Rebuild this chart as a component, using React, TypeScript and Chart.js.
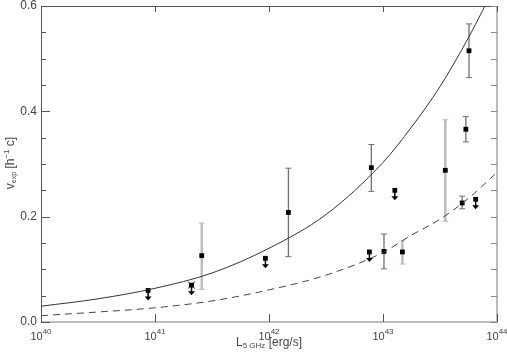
import React, { useEffect, useRef } from 'react';
import { Chart, registerables } from 'chart.js';

Chart.register(...registerables);

// Axis ticks
const xTickValues = [1e40, 1e41, 1e42, 1e43, 1e44];
const xTickBase = '10';
const xTickExponents = ['40', '41', '42', '43', '44'];
const yTickValues = [0, 0.2, 0.4, 0.6];
const yTickLabels = ['0.0', '0.2', '0.4', '0.6'];
const yMinorStep = 0.05;

// Detections with darker error bars
const darkL = [1.48e42, 7.9e42, 1.02e43, 4.95e43, 5.33e43, 5.68e43];
const darkV = [0.208, 0.293, 0.134, 0.226, 0.366, 0.515];
const darkLo = [0.124, 0.248, 0.101, 0.215, 0.342, 0.464];
const darkHi = [0.292, 0.337, 0.167, 0.239, 0.39, 0.566];

// Detections with lighter error bars
const lightL = [2.57e41, 1.48e43, 3.52e43];
const lightV = [0.126, 0.133, 0.288];
const lightLo = [0.062, 0.11, 0.191];
const lightHi = [0.188, 0.154, 0.384];

// Upper limits
const limitL = [8.7e40, 2.09e41, 9.3e41, 7.6e42, 1.27e43, 6.5e43];
const limitV = [0.06, 0.07, 0.121, 0.133, 0.25, 0.233];

// Special (crossed) source
const crossL = [2.09e41];
const crossV = [0.07];

const curveL = [1e40, 3.162e40, 1e41, 3.162e41, 1e42, 3.162e42, 1e43, 1.778e43, 3.162e43, 5.623e43, 1e44];
const solidV = [0.03, 0.044, 0.064, 0.093, 0.14, 0.204, 0.303, 0.37, 0.447, 0.54, 0.645];
const dashedV = [0.012, 0.019, 0.027, 0.04, 0.061, 0.089, 0.132, 0.165, 0.195, 0.235, 0.284];

const xTitleMain = 'L';
const xTitleSub = '5 GHz';
const xTitleRest = ' [erg/s]';
const yTitleMain = 'v';
const yTitleSub = 'exp';
const yTitleA = ' [h';
const yTitleSup = '\u22121';
const yTitleB = ' c]';

const FONT = '"Liberation Sans", Arial, sans-serif';
const TEXT = '#444';

const pts = (xs: number[], ys: number[]) => xs.map((x, i) => ({ x, y: ys[i] }));

const overlay = {
  id: 'overlay',
  beforeDatasetsDraw(chart: any) {
    const { ctx, scales } = chart;
    const x = scales.x, y = scales.y;
    const bars = (L: number[], lo: number[], hi: number[], color: string, w: number) => {
      ctx.save();
      ctx.strokeStyle = color;
      L.forEach((l, i) => {
        const px = x.getPixelForValue(l);
        const p1 = y.getPixelForValue(lo[i]);
        const p2 = y.getPixelForValue(hi[i]);
        ctx.lineWidth = w;
        ctx.beginPath();
        ctx.moveTo(px, p1);
        ctx.lineTo(px, p2);
        ctx.stroke();
        ctx.lineWidth = 1;
        ctx.beginPath();
        ctx.moveTo(px - 3, p1);
        ctx.lineTo(px + 3, p1);
        ctx.moveTo(px - 3, p2);
        ctx.lineTo(px + 3, p2);
        ctx.stroke();
      });
      ctx.restore();
    };
    bars(lightL, lightLo, lightHi, '#bdbdbd', 2.5);
    bars(darkL, darkLo, darkHi, '#707070', 1.3);
  },
  afterDatasetsDraw(chart: any) {
    const { ctx, scales } = chart;
    const x = scales.x, y = scales.y;
    ctx.save();
    ctx.strokeStyle = '#000';
    ctx.fillStyle = '#000';
    ctx.lineWidth = 1.5;
    limitL.forEach((l, i) => {
      const px = x.getPixelForValue(l);
      const py = y.getPixelForValue(limitV[i]);
      ctx.beginPath();
      ctx.moveTo(px, py);
      ctx.lineTo(px, py + 7);
      ctx.stroke();
      ctx.beginPath();
      ctx.moveTo(px - 3.5, py + 6);
      ctx.lineTo(px + 3.5, py + 6);
      ctx.lineTo(px, py + 10);
      ctx.closePath();
      ctx.fill();
    });
    ctx.restore();
  },
  afterDraw(chart: any) {
    const { ctx, chartArea: ca, scales } = chart;
    const x = scales.x, y = scales.y;
    ctx.save();
    // frame
    ctx.lineWidth = 2;
    ctx.strokeStyle = '#bdbdbd';
    ctx.beginPath();
    ctx.moveTo(ca.left, ca.bottom);
    ctx.lineTo(ca.right, ca.bottom);
    ctx.lineTo(ca.right, ca.top);
    ctx.stroke();
    ctx.lineWidth = 1;
    ctx.strokeStyle = '#555';
    ctx.beginPath();
    ctx.moveTo(ca.left + 0.5, ca.bottom);
    ctx.lineTo(ca.left + 0.5, ca.top + 0.5);
    ctx.lineTo(ca.right, ca.top + 0.5);
    ctx.stroke();
    // y ticks
    const n = Math.round(0.6 / yMinorStep);
    for (let k = 0; k <= n; k++) {
      const v = k * yMinorStep;
      const py = Math.round(y.getPixelForValue(v)) + 0.5;
      const major = yTickValues.some((t) => Math.abs(t - v) < 1e-9);
      ctx.strokeStyle = '#555';
      ctx.beginPath();
      ctx.moveTo(ca.left, py);
      ctx.lineTo(ca.left + (major ? 9 : 5), py);
      ctx.stroke();
      ctx.strokeStyle = '#888';
      ctx.beginPath();
      ctx.moveTo(ca.right, py);
      ctx.lineTo(ca.right - 6, py);
      ctx.stroke();
    }
    // x ticks
    ctx.strokeStyle = '#555';
    xTickValues.forEach((v) => {
      const px = Math.round(x.getPixelForValue(v)) + 0.5;
      ctx.beginPath();
      ctx.moveTo(px, ca.bottom);
      ctx.lineTo(px, ca.bottom - 8);
      ctx.moveTo(px, ca.top);
      ctx.lineTo(px, ca.top + 6);
      ctx.stroke();
    });
    // y labels
    ctx.fillStyle = TEXT;
    ctx.font = '12px ' + FONT;
    ctx.textAlign = 'right';
    ctx.textBaseline = 'middle';
    yTickValues.forEach((v, i) => {
      ctx.fillText(yTickLabels[i], ca.left - 4, y.getPixelForValue(v));
    });
    // x labels with superscripts
    ctx.textBaseline = 'alphabetic';
    ctx.textAlign = 'left';
    xTickValues.forEach((v, i) => {
      const px = x.getPixelForValue(v);
      ctx.font = '11px ' + FONT;
      const w1 = ctx.measureText(xTickBase).width;
      ctx.font = '8px ' + FONT;
      const w2 = ctx.measureText(xTickExponents[i]).width;
      const x0 = px - (w1 + w2) / 2;
      ctx.font = '11px ' + FONT;
      ctx.fillText(xTickBase, x0, ca.bottom + 18);
      ctx.font = '8px ' + FONT;
      ctx.fillText(xTickExponents[i], x0 + w1, ca.bottom + 12);
    });
    const rich = (parts: { t: string; s: number; dy: number }[], cx: number, base: number) => {
      let total = 0;
      parts.forEach((p) => {
        ctx.font = p.s + 'px ' + FONT;
        total += ctx.measureText(p.t).width;
      });
      let cur = cx - total / 2;
      parts.forEach((p) => {
        ctx.font = p.s + 'px ' + FONT;
        ctx.fillText(p.t, cur, base + p.dy);
        cur += ctx.measureText(p.t).width;
      });
    };
    // x title
    rich(
      [
        { t: xTitleMain, s: 12, dy: 0 },
        { t: xTitleSub, s: 8, dy: 2 },
        { t: xTitleRest, s: 12, dy: 0 },
      ],
      (ca.left + ca.right) / 2,
      ca.bottom + 24
    );
    // y title
    ctx.save();
    ctx.translate(14, 163);
    ctx.rotate(-Math.PI / 2);
    rich(
      [
        { t: yTitleMain, s: 12, dy: 0 },
        { t: yTitleSub, s: 7, dy: 2 },
        { t: yTitleA, s: 12, dy: 0 },
        { t: yTitleSup, s: 8, dy: -5 },
        { t: yTitleB, s: 12, dy: 0 },
      ],
      0,
      0
    );
    ctx.restore();
    ctx.restore();
  },
};

export default function App() {
  const ref = useRef<HTMLCanvasElement | null>(null);
  useEffect(() => {
    if (!ref.current) return;
    const chart = new Chart(ref.current, {
      type: 'scatter',
      data: {
        datasets: [
          {
            data: pts(curveL, solidV),
            showLine: true,
            borderColor: '#333',
            borderWidth: 1,
            pointRadius: 0,
            cubicInterpolationMode: 'monotone',
          },
          {
            data: pts(curveL, dashedV),
            showLine: true,
            borderColor: '#444',
            borderWidth: 1,
            borderDash: [7, 5],
            pointRadius: 0,
            cubicInterpolationMode: 'monotone',
          },
          {
            data: pts(darkL, darkV),
            pointStyle: 'rect',
            pointRadius: 3.4,
            backgroundColor: '#000',
            borderColor: '#000',
            borderWidth: 0,
          },
          {
            data: pts(lightL, lightV),
            pointStyle: 'rect',
            pointRadius: 3.4,
            backgroundColor: '#000',
            borderColor: '#000',
            borderWidth: 0,
          },
          {
            data: pts(limitL, limitV),
            pointStyle: 'rect',
            pointRadius: 3.4,
            backgroundColor: '#000',
            borderColor: '#000',
            borderWidth: 0,
          },
          {
            data: pts(crossL, crossV),
            pointStyle: 'crossRot',
            pointRadius: 5,
            borderColor: '#333',
            borderWidth: 1,
          },
        ] as any,
      },
      options: {
        animation: false,
        responsive: true,
        maintainAspectRatio: false,
        layout: { padding: { top: 1, right: 10, left: 0, bottom: 0 } },
        plugins: { legend: { display: false }, tooltip: { enabled: false } },
        scales: {
          x: {
            type: 'logarithmic',
            min: 1e40,
            max: 1e44,
            grid: { display: false },
            border: { display: false },
            ticks: { display: false },
            afterFit: (s: any) => {
              s.height = 35;
            },
          },
          y: {
            type: 'linear',
            min: 0,
            max: 0.6,
            grid: { display: false },
            border: { display: false },
            ticks: { display: false },
            afterFit: (s: any) => {
              s.width = 41;
            },
          },
        },
      } as any,
      plugins: [overlay],
    });
    return () => chart.destroy();
  }, []);
  return (
    <div style={{ position: 'fixed', left: 0, top: 0, width: 507, height: 357, background: '#fff' }}>
      <canvas ref={ref} />
    </div>
  );
}
